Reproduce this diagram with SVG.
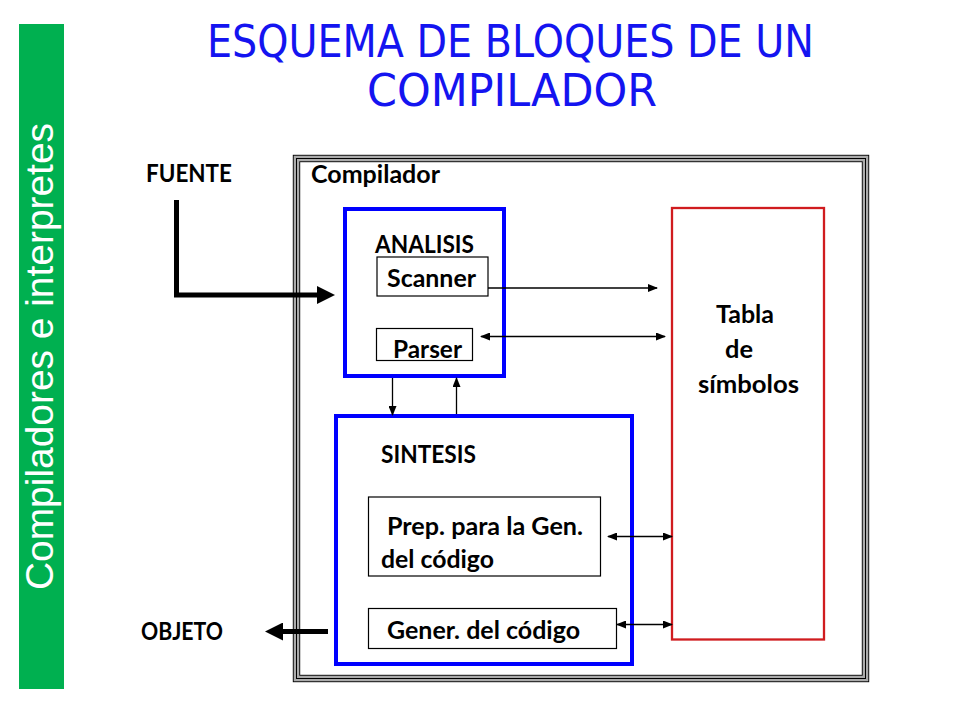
<svg xmlns="http://www.w3.org/2000/svg" width="960" height="720" viewBox="0 0 960 720">
<style>
.lbl{font-family:Lato,"Liberation Sans",sans-serif;font-weight:bold;font-size:24px;fill:#000}
.box{fill:#fff;stroke:#000;stroke-width:1.2}
.blue{fill:none;stroke:#0000FF;stroke-width:4}
.thin{stroke:#000;stroke-width:1.3;fill:none}
.thick{stroke:#000;stroke-width:5;fill:none}
.title{font-family:"DejaVu Sans","Liberation Sans",sans-serif;font-size:45px;fill:#1414F0}
</style>
<defs>
<marker id="ah" markerUnits="userSpaceOnUse" markerWidth="10" markerHeight="8" viewBox="0 0 10 8" refX="9" refY="4" orient="auto-start-reverse">
<path d="M0,0 L10,4 L0,8 z" fill="#000"/>
</marker>
<marker id="bh" markerUnits="userSpaceOnUse" markerWidth="18" markerHeight="18" viewBox="0 0 18 18" refX="3" refY="9" orient="auto">
<path d="M0,0 L18,9 L0,18 z" fill="#000"/>
</marker>
</defs>
<rect width="960" height="720" fill="#fff"/>
<g id="sidebar">
<rect x="19" y="24" width="45" height="665" fill="#00B050"/>
<text transform="translate(53,590) rotate(-90)" font-family="'Liberation Sans',Arial,sans-serif" font-size="38.5" fill="#fff" textLength="467" lengthAdjust="spacingAndGlyphs">Compiladores e interpretes</text>
</g>
<g id="title">
<text class="title" x="207" y="57" textLength="607" lengthAdjust="spacingAndGlyphs">ESQUEMA DE BLOQUES DE UN</text>
<text class="title" x="367" y="106" textLength="290" lengthAdjust="spacingAndGlyphs">COMPILADOR</text>
</g>
<g id="compilador">
<rect x="296.5" y="158.5" width="569" height="520" fill="#fff" stroke="#000" stroke-width="7.4"/>
<rect x="296.5" y="158.5" width="569" height="520" fill="none" stroke="#ababab" stroke-width="5.6"/>
<rect x="296.5" y="158.5" width="569" height="520" fill="none" stroke="#000" stroke-width="1"/>
<text class="lbl" x="311" y="183" textLength="129" lengthAdjust="spacingAndGlyphs">Compilador</text>
</g>
<g id="fuente"><text class="lbl" x="146" y="182" textLength="86" lengthAdjust="spacingAndGlyphs">FUENTE</text></g>
<g id="objeto"><text class="lbl" x="141" y="640" textLength="82" lengthAdjust="spacingAndGlyphs">OBJETO</text></g>
<g id="analisis">
<rect class="blue" x="345" y="209" width="159" height="167"/>
<text class="lbl" x="375" y="253" textLength="99" lengthAdjust="spacingAndGlyphs">ANALISIS</text>
</g>
<g id="scanner">
<rect class="box" x="377" y="257" width="111" height="39"/>
<text class="lbl" x="387" y="287" textLength="89" lengthAdjust="spacingAndGlyphs">Scanner</text>
</g>
<g id="parser">
<rect class="box" x="376.5" y="328.5" width="96" height="32"/>
<text class="lbl" x="393" y="358" textLength="69" lengthAdjust="spacingAndGlyphs">Parser</text>
</g>
<g id="sintesis">
<rect class="blue" x="336" y="416" width="296" height="248"/>
<text class="lbl" x="381" y="463" textLength="95" lengthAdjust="spacingAndGlyphs">SINTESIS</text>
</g>
<g id="prep">
<rect class="box" x="368.5" y="497" width="232" height="79"/>
<text class="lbl" x="387" y="535" textLength="196" lengthAdjust="spacingAndGlyphs">Prep. para la Gen.</text>
<text class="lbl" x="381" y="568" textLength="113" lengthAdjust="spacingAndGlyphs">del código</text>
</g>
<g id="gener">
<rect class="box" x="368.5" y="608.5" width="248" height="40"/>
<text class="lbl" x="387" y="639" textLength="193" lengthAdjust="spacingAndGlyphs">Gener. del código</text>
</g>
<g id="tabla">
<rect x="672" y="208" width="152" height="431.5" fill="none" stroke="#D01C1F" stroke-width="2.3"/>
<text class="lbl" x="716" y="323" textLength="58" lengthAdjust="spacingAndGlyphs">Tabla</text>
<text class="lbl" x="725" y="358" textLength="28" lengthAdjust="spacingAndGlyphs">de</text>
<text class="lbl" x="698" y="393" textLength="101" lengthAdjust="spacingAndGlyphs">símbolos</text>
</g>
<g id="connectors">
<polyline class="thick" points="176.5,200 176.5,295 320,295" marker-end="url(#bh)"/>
<line class="thick" x1="328" y1="631.5" x2="280" y2="631.5" marker-end="url(#bh)"/>
<line class="thin" x1="488" y1="288" x2="657" y2="288" marker-end="url(#ah)"/>
<line class="thin" x1="481" y1="336.5" x2="665" y2="336.5" marker-start="url(#ah)" marker-end="url(#ah)"/>
<line class="thin" x1="392.5" y1="378" x2="392.5" y2="415" marker-end="url(#ah)"/>
<line class="thin" x1="456.5" y1="414" x2="456.5" y2="378" marker-end="url(#ah)"/>
<line class="thin" x1="608" y1="536.5" x2="672" y2="536.5" marker-start="url(#ah)" marker-end="url(#ah)"/>
<line class="thin" x1="617" y1="624.5" x2="672" y2="624.5" marker-start="url(#ah)" marker-end="url(#ah)"/>
</g>
</svg>
